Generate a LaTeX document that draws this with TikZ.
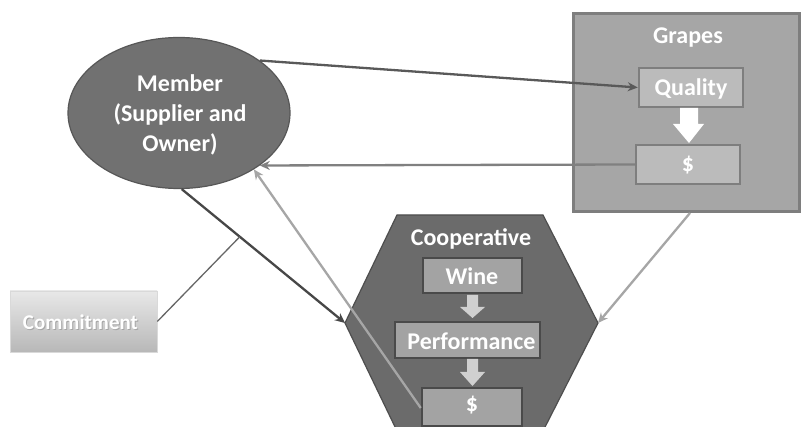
\documentclass[tikz,border=0pt]{standalone}
\usepackage{fontspec}
\setmainfont{Carlito}
\usetikzlibrary{shapes.geometric,arrows.meta}
\definecolor{memfill}{HTML}{717171}
\definecolor{memdraw}{HTML}{575757}
\definecolor{hexfill}{HTML}{6B6B6B}
\definecolor{hexdraw}{HTML}{4E4E4E}
\definecolor{grfill}{HTML}{A6A6A6}
\definecolor{grdraw}{HTML}{7E7E7E}
\definecolor{qfill}{HTML}{BBBBBB}
\definecolor{cbfill}{HTML}{A3A3A3}
\definecolor{cbdraw}{HTML}{4A4A4A}
\definecolor{barrow}{HTML}{D0D0D0}
\begin{document}
\begin{tikzpicture}[x=1pt,y=-1pt,
  lbl/.style={text=white,font=\bfseries\fontsize{24}{30}\selectfont,align=center,inner sep=0pt},
  gbox/.style={draw=grdraw,line width=2.5pt,fill=qfill,minimum width=104pt,minimum height=39pt,inner sep=0pt},
  cbox/.style={draw=cbdraw,line width=2.5pt,fill=cbfill,minimum height=36pt,inner sep=0pt},
  tip/.style={-{Stealth[length=10pt,width=9pt]}},
  darkarr/.style={tip,draw=black!65,line width=2.3pt},
  midarr/.style={tip,draw=black!50,line width=2.3pt},
  lightarr/.style={tip,draw=black!35,line width=2.3pt},
  thinline/.style={draw=black!60,line width=1.3pt}
]
\clip (0,0) rectangle (801,427);
\fill[white] (0,0) rectangle (801,427);

% Grapes container
\node[draw=grdraw,fill=grfill,line width=3pt,minimum width=226pt,minimum height=198pt,inner sep=0pt] (grapes) at (686,112.5) {};
\node[lbl] (grapesT) at (688,38) {Grapes};
\node[gbox] (quality) at (691,87.5) {};
\node[lbl] (qualityT) at (691,89) {Quality};
\node[gbox] (dollarG) at (688,164.5) {};
\node[lbl] (dollarGT) at (688,165) {\$};
\fill[white] (680,108) -- (698,108) -- (698,124) -- (704,124) -- (689,143) -- (673,124) -- (680,124) -- cycle;

% Cooperative hexagon
\coordinate (hexTL) at (397,215);
\coordinate (hexTR) at (543,215);
\coordinate (hexR) at (598,323);
\coordinate (hexBR) at (543,431);
\coordinate (hexBL) at (397,431);
\coordinate (hexL) at (345,323);
\draw[draw=hexdraw,fill=hexfill,line width=1.2pt] (hexTL) -- (hexTR) -- (hexR) -- (hexBR) -- (hexBL) -- (hexL) -- cycle;
\node[lbl] (coopT) at (471,239) {Cooperative};
\node[cbox,minimum width=99pt,minimum height=35pt] (wine) at (472.5,275.5) {};
\node[lbl] (wineT) at (472,276) {Wine};
\node[cbox,minimum width=145pt] (perf) at (467.5,340) {};
\node[lbl] (perfT) at (471.5,341) {Performance};
\node[cbox,minimum width=100pt,minimum height=38pt] (dollarC) at (472,407) {};
\node[lbl] (dollarCT) at (472,405) {\$};
\fill[barrow] (467,295) -- (478,295) -- (478,307) -- (485,307) -- (472.5,318) -- (460,307) -- (467,307) -- cycle;
\fill[barrow] (467,359) -- (478,359) -- (478,372) -- (485,372) -- (472.5,386) -- (460,372) -- (467,372) -- cycle;

% Member ellipse
\node[ellipse,draw=memdraw,fill=memfill,line width=1.2pt,minimum width=222pt,minimum height=151pt,inner sep=0pt] (member) at (179,113) {};
\node[lbl] (memberT) at (180,115) {Member\\(Supplier and\\Owner)};

% Commitment box
\node[draw=black!15,line width=0.6pt,top color=black!9,bottom color=black!28,minimum width=147pt,minimum height=61pt,inner sep=0pt] (commit) at (83.5,321.5) {};
\node[text=black!35,font=\bfseries\fontsize{21}{25}\selectfont,inner sep=0pt] (commitS) at (81.5,323.5) {Commitment};
\node[text=white,font=\bfseries\fontsize{21}{25}\selectfont,inner sep=0pt] (commitT) at (80.5,322.5) {Commitment};

% Connectors
\draw[darkarr] (member.33) -- (quality.west);
\draw[midarr] (dollarG.west) -- (member.327);
\draw[lightarr] ([yshift=-1pt]dollarC.west) -- (member.323);
\draw[tip,draw=black!72,line width=2.3pt] (member.272) -- coordinate[pos=0.356] (cm) (hexL);
\draw[lightarr] ([xshift=4pt]grapes.south) -- (hexR);
\draw[thinline] (commit.east) -- (cm);
\end{tikzpicture}
\end{document}
